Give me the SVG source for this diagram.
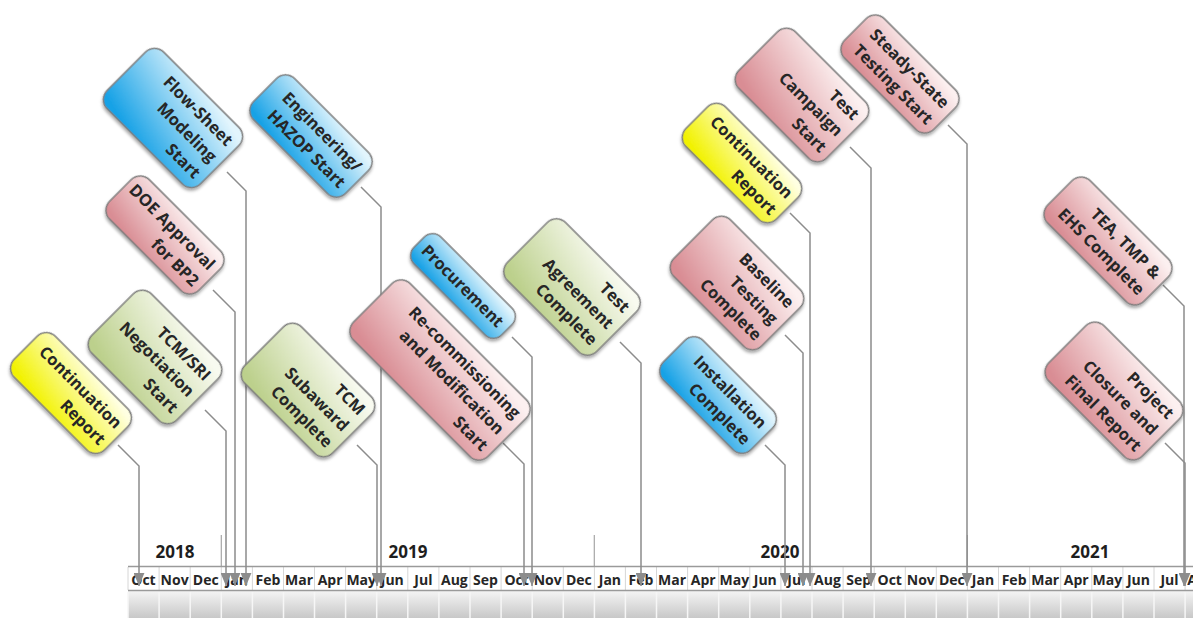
<svg xmlns="http://www.w3.org/2000/svg" width="1193" height="618" viewBox="0 0 1193 618">
  <defs>
    <linearGradient id="gBlue" x1="0.7" y1="0" x2="0.3" y2="1">
      <stop offset="0" stop-color="#e2f5fd"/>
      <stop offset="1" stop-color="#18a2e6"/>
    </linearGradient>
    <linearGradient id="gPink" x1="0.7" y1="0" x2="0.3" y2="1">
      <stop offset="0" stop-color="#fcf0f0"/>
      <stop offset="1" stop-color="#d98d94"/>
    </linearGradient>
    <linearGradient id="gGreen" x1="0.7" y1="0" x2="0.3" y2="1">
      <stop offset="0" stop-color="#f8faf0"/>
      <stop offset="1" stop-color="#bcd08c"/>
    </linearGradient>
    <linearGradient id="gYellow" x1="0.7" y1="0" x2="0.3" y2="1">
      <stop offset="0" stop-color="#ffffe2"/>
      <stop offset="1" stop-color="#f2f200"/>
    </linearGradient>
    <linearGradient id="gBar" x1="0" y1="0" x2="0" y2="1">
      <stop offset="0" stop-color="#f4f4f4"/>
      <stop offset="1" stop-color="#c8c8c8"/>
    </linearGradient>
    <filter id="shadow" x="-20%" y="-30%" width="140%" height="160%">
      <feDropShadow dx="1.5" dy="2" stdDeviation="1.6" flood-color="#000" flood-opacity="0.35"/>
    </filter>
    <marker id="arrow" viewBox="0 0 12 10" refX="12" refY="5" markerWidth="13" markerHeight="11" markerUnits="userSpaceOnUse" orient="auto">
      <path d="M0,0 L12,5 L0,10 z" fill="#8c8c8c"/>
    </marker>
  </defs>
  <style>
    .box { stroke: #7a7a7a; stroke-width: 1.4; filter: url(#shadow); }
    .blue { fill: url(#gBlue); }
    .pink { fill: url(#gPink); }
    .green { fill: url(#gGreen); }
    .yellow { fill: url(#gYellow); }
    .lbl { font-family: "Open Sans", "Noto Sans", sans-serif; font-weight: 700; font-size: 16.5px; fill: #262626; text-anchor: end; }
    .conn { fill: none; stroke: #8c8c8c; stroke-width: 1.5; marker-end: url(#arrow); }
    .year { font-family: "Open Sans", "Noto Sans", sans-serif; font-weight: 700; font-size: 17px; fill: #1e1e1e; text-anchor: middle; }
    .mon { font-family: "Open Sans", "Noto Sans", sans-serif; font-weight: 700; font-size: 14px; fill: #262626; text-anchor: middle; }
    .rule { stroke: #9a9a9a; stroke-width: 1.5; }
    .sep { stroke: #d6d6d6; stroke-width: 1; }
    .barsep { stroke: #f6f6f6; stroke-width: 1.5; }
    .ydiv { stroke: #a5a5a5; stroke-width: 1.2; }
  </style>

  <!-- time axis -->
  <g id="axis">
    <rect x="128" y="591" width="1065" height="27" fill="url(#gBar)"/>
    <line class="ydiv" x1="221.3" y1="535" x2="221.3" y2="566"/>
    <line class="ydiv" x1="594.3" y1="535" x2="594.3" y2="566"/>
    <line class="ydiv" x1="967.4" y1="535" x2="967.4" y2="566"/>
    <text class="year" x="175" y="558">2018</text>
    <text class="year" x="408" y="558">2019</text>
    <text class="year" x="780" y="558">2020</text>
    <text class="year" x="1090" y="558">2021</text>
    <g id="month-separators">
      <path class="sep" d="M128,567V590 M159.1,567V590 M190.2,567V590 M221.3,567V590 M252.4,567V590 M283.5,567V590 M314.5,567V590 M345.6,567V590 M376.7,567V590 M407.8,567V590 M438.9,567V590 M470,567V590 M501.1,567V590 M532.2,567V590 M563.3,567V590 M594.4,567V590 M625.4,567V590 M656.5,567V590 M687.6,567V590 M718.7,567V590 M749.8,567V590 M780.9,567V590 M812,567V590 M843.1,567V590 M874.2,567V590 M905.3,567V590 M936.3,567V590 M967.4,567V590 M998.5,567V590 M1029.6,567V590 M1060.7,567V590 M1091.8,567V590 M1122.9,567V590 M1154,567V590 M1185.1,567V590"/>
      <path class="barsep" d="M128,592V618 M159.1,592V618 M190.2,592V618 M221.3,592V618 M252.4,592V618 M283.5,592V618 M314.5,592V618 M345.6,592V618 M376.7,592V618 M407.8,592V618 M438.9,592V618 M470,592V618 M501.1,592V618 M532.2,592V618 M563.3,592V618 M594.4,592V618 M625.4,592V618 M656.5,592V618 M687.6,592V618 M718.7,592V618 M749.8,592V618 M780.9,592V618 M812,592V618 M843.1,592V618 M874.2,592V618 M905.3,592V618 M936.3,592V618 M967.4,592V618 M998.5,592V618 M1029.6,592V618 M1060.7,592V618 M1091.8,592V618 M1122.9,592V618 M1154,592V618 M1185.1,592V618"/>
    </g>
    <line class="rule" x1="128" y1="566.5" x2="1193" y2="566.5"/>
    <line class="rule" x1="128" y1="590.5" x2="1193" y2="590.5"/>
    <g id="months">
      <text class="mon" x="143.5" y="585">Oct</text>
      <text class="mon" x="174.6" y="585">Nov</text>
      <text class="mon" x="205.7" y="585">Dec</text>
      <text class="mon" x="236.8" y="585">Jan</text>
      <text class="mon" x="267.9" y="585">Feb</text>
      <text class="mon" x="299" y="585">Mar</text>
      <text class="mon" x="330.1" y="585">Apr</text>
      <text class="mon" x="361.2" y="585">May</text>
      <text class="mon" x="392.3" y="585">Jun</text>
      <text class="mon" x="423.4" y="585">Jul</text>
      <text class="mon" x="454.4" y="585">Aug</text>
      <text class="mon" x="485.5" y="585">Sep</text>
      <text class="mon" x="516.6" y="585">Oct</text>
      <text class="mon" x="547.7" y="585">Nov</text>
      <text class="mon" x="578.8" y="585">Dec</text>
      <text class="mon" x="609.9" y="585">Jan</text>
      <text class="mon" x="641" y="585">Feb</text>
      <text class="mon" x="672.1" y="585">Mar</text>
      <text class="mon" x="703.2" y="585">Apr</text>
      <text class="mon" x="734.3" y="585">May</text>
      <text class="mon" x="765.3" y="585">Jun</text>
      <text class="mon" x="796.4" y="585">Jul</text>
      <text class="mon" x="827.5" y="585">Aug</text>
      <text class="mon" x="858.6" y="585">Sep</text>
      <text class="mon" x="889.7" y="585">Oct</text>
      <text class="mon" x="920.8" y="585">Nov</text>
      <text class="mon" x="951.9" y="585">Dec</text>
      <text class="mon" x="983" y="585">Jan</text>
      <text class="mon" x="1014.1" y="585">Feb</text>
      <text class="mon" x="1045.2" y="585">Mar</text>
      <text class="mon" x="1076.2" y="585">Apr</text>
      <text class="mon" x="1107.3" y="585">May</text>
      <text class="mon" x="1138.4" y="585">Jun</text>
      <text class="mon" x="1169.5" y="585">Jul</text>
      <text class="mon" x="1200.6" y="585">Aug</text>
    </g>
  </g>

  <!-- leader lines from each milestone down to its month -->
  <g id="connectors">
    <path class="conn" d="M118,445 L139,466 L139,586"/>
    <path class="conn" d="M205,410 L226,431 L226,586"/>
    <path class="conn" d="M213,290 L235,312 L235,586"/>
    <path class="conn" d="M227,172 L246,191 L246,586"/>
    <path class="conn" d="M361,187 L381,207 L381,586"/>
    <path class="conn" d="M357,445 L377,465 L377,586"/>
    <path class="conn" d="M503,443 L524,464 L524,586"/>
    <path class="conn" d="M512,337 L532,357 L532,586"/>
    <path class="conn" d="M620,342 L641,363 L641,586"/>
    <path class="conn" d="M765,445 L785,465 L785,586"/>
    <path class="conn" d="M785,335 L803,353 L803,586"/>
    <path class="conn" d="M790,213 L810,233 L810,586"/>
    <path class="conn" d="M850,147 L871,168 L871,586"/>
    <path class="conn" d="M948,125 L967,144 L967,586"/>
    <path class="conn" d="M1163,285 L1184,306 L1184,586"/>
    <path class="conn" d="M1165,443 L1185,463 L1185,586"/>
  </g>

  <!-- milestones: rounded cards tilted 45 degrees -->
  <g id="continuation-2018" transform="translate(71,393) rotate(45)">
    <rect class="box yellow" x="-64" y="-29" width="128" height="58" rx="13"/>
    <text class="lbl"><tspan x="57" y="-5">Continuation</tspan><tspan x="57" y="18">Report</tspan></text>
  </g>
  <g id="tcm-sri-negotiation" transform="translate(155,357) rotate(45)">
    <rect class="box green" x="-60" y="-42" width="120" height="84" rx="13"/>
    <text class="lbl"><tspan x="52" y="-17">TCM/SRI</tspan><tspan x="52" y="6">Negotiation</tspan><tspan x="52" y="29">Start</tspan></text>
  </g>
  <g id="doe-approval" transform="translate(165,235) rotate(45)">
    <rect class="box pink" x="-63" y="-28" width="126" height="56" rx="13"/>
    <text class="lbl"><tspan x="56" y="-5">DOE Approval</tspan><tspan x="56" y="18">for BP2</tspan></text>
  </g>
  <g id="flow-sheet-modeling" transform="translate(173,118) rotate(45)">
    <rect class="box blue" x="-66" y="-40" width="132" height="80" rx="13"/>
    <text class="lbl"><tspan x="58" y="-17">Flow-Sheet</tspan><tspan x="58" y="6">Modeling</tspan><tspan x="58" y="29">Start</tspan></text>
  </g>
  <g id="engineering-hazop" transform="translate(311,136) rotate(45)">
    <rect class="box blue" x="-65" y="-29" width="130" height="58" rx="13"/>
    <text class="lbl"><tspan x="57" y="-5">Engineering/</tspan><tspan x="57" y="18">HAZOP Start</tspan></text>
  </g>
  <g id="tcm-subaward" transform="translate(308,390) rotate(45)">
    <rect class="box green" x="-62" y="-40" width="124" height="80" rx="13"/>
    <text class="lbl"><tspan x="54" y="-17">TCM</tspan><tspan x="54" y="6">Subaward</tspan><tspan x="54" y="29">Complete</tspan></text>
  </g>
  <g id="recommissioning" transform="translate(440,370) rotate(45)">
    <rect class="box pink" x="-95" y="-40" width="190" height="80" rx="13"/>
    <text class="lbl"><tspan x="87" y="-17">Re-commissioning</tspan><tspan x="87" y="6">and Modification</tspan><tspan x="87" y="29">Start</tspan></text>
  </g>
  <g id="procurement" transform="translate(463,286) rotate(45)">
    <rect class="box blue" x="-62" y="-19" width="124" height="38" rx="12"/>
    <text class="lbl"><tspan x="54" y="6">Procurement</tspan></text>
  </g>
  <g id="test-agreement" transform="translate(572,287) rotate(45)">
    <rect class="box green" x="-63" y="-41" width="126" height="82" rx="13"/>
    <text class="lbl"><tspan x="55" y="-17">Test</tspan><tspan x="55" y="6">Agreement</tspan><tspan x="55" y="29">Complete</tspan></text>
  </g>
  <g id="continuation-2020" transform="translate(742,163) rotate(45)">
    <rect class="box yellow" x="-64" y="-28" width="128" height="56" rx="13"/>
    <text class="lbl"><tspan x="57" y="-5">Continuation</tspan><tspan x="57" y="18">Report</tspan></text>
  </g>
  <g id="test-campaign" transform="translate(802,95) rotate(45)">
    <rect class="box pink" x="-62" y="-40" width="124" height="80" rx="13"/>
    <text class="lbl"><tspan x="54" y="-17">Test</tspan><tspan x="54" y="6">Campaign</tspan><tspan x="54" y="29">Start</tspan></text>
  </g>
  <g id="steady-state-testing" transform="translate(900,74) rotate(45)">
    <rect class="box pink" x="-63" y="-28" width="126" height="56" rx="13"/>
    <text class="lbl"><tspan x="55" y="-5">Steady-State</tspan><tspan x="55" y="18">Testing Start</tspan></text>
  </g>
  <g id="baseline-testing" transform="translate(737,283) rotate(45)">
    <rect class="box pink" x="-62" y="-40" width="124" height="80" rx="13"/>
    <text class="lbl"><tspan x="54" y="-17">Baseline</tspan><tspan x="54" y="6">Testing</tspan><tspan x="54" y="29">Complete</tspan></text>
  </g>
  <g id="installation" transform="translate(718,395) rotate(45)">
    <rect class="box blue" x="-62" y="-28" width="124" height="56" rx="13"/>
    <text class="lbl"><tspan x="54" y="-5">Installation</tspan><tspan x="54" y="18">Complete</tspan></text>
  </g>
  <g id="tea-tmp-ehs" transform="translate(1108,241) rotate(45)">
    <rect class="box pink" x="-68" y="-30" width="136" height="60" rx="13"/>
    <text class="lbl"><tspan x="60" y="-5">TEA, TMP &amp;</tspan><tspan x="60" y="18">EHS Complete</tspan></text>
  </g>
  <g id="project-closure" transform="translate(1114,391) rotate(45)">
    <rect class="box pink" x="-66" y="-39" width="132" height="78" rx="13"/>
    <text class="lbl"><tspan x="58" y="-17">Project</tspan><tspan x="58" y="6">Closure and</tspan><tspan x="58" y="29">Final Report</tspan></text>
  </g>
</svg>
